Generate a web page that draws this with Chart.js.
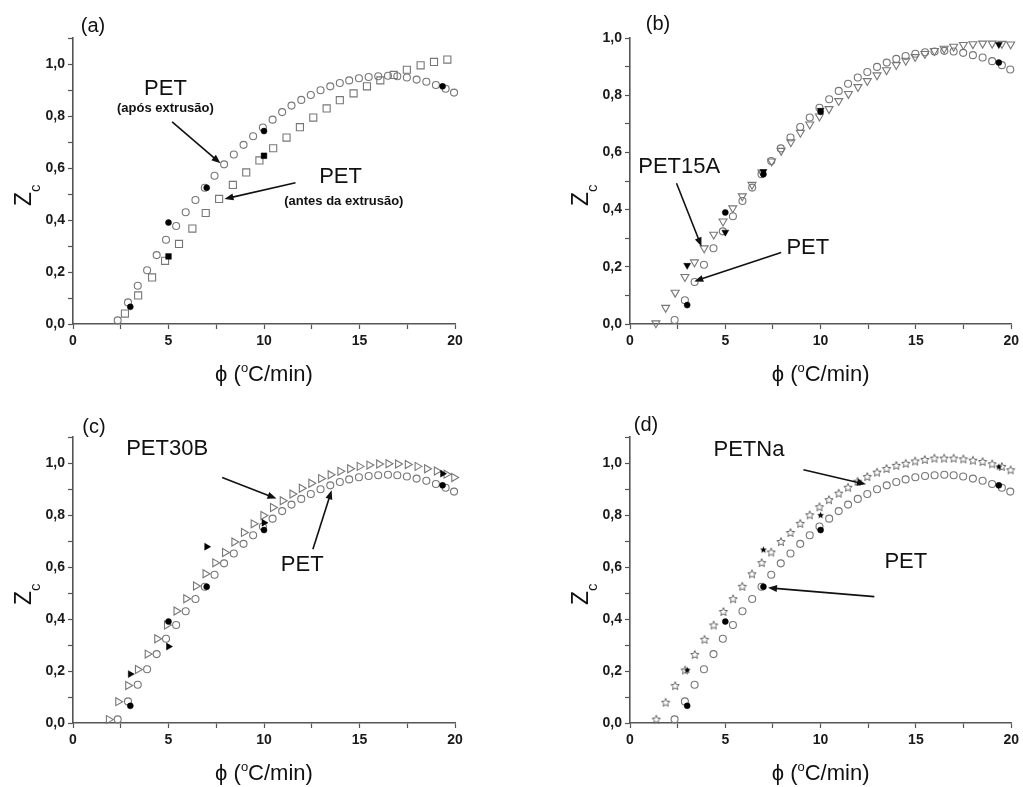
<!DOCTYPE html>
<html><head><meta charset="utf-8">
<script src="https://cdn.jsdelivr.net/npm/chart.js@4/dist/chart.umd.min.js"></script>
<style>
html,body{margin:0;padding:0;background:#fff;}
#wrap{position:relative;width:1023px;height:787px;overflow:hidden;background:#fff;}
canvas{position:absolute;}
</style></head><body>
<div id="wrap">
<canvas id="ca" style="left:0;top:0;" width="511" height="393"></canvas>
<canvas id="cb" style="left:511px;top:0;" width="512" height="393"></canvas>
<canvas id="cc" style="left:0;top:393px;" width="511" height="394"></canvas>
<canvas id="cd" style="left:511px;top:393px;" width="512" height="394"></canvas>
</div>
<script>
// ---------- DATA ----------
// PET (after extrusion) model curve - open circles (same in all panels)
const phiPET = [2.34, 2.88, 3.39, 3.88, 4.38, 4.87, 5.40, 5.90, 6.41, 6.90, 7.41, 7.91, 8.42, 8.93, 9.43, 9.94, 10.45, 10.95, 11.44, 11.95, 12.45, 12.96, 13.47, 13.97, 14.46, 14.97, 15.48, 15.98, 16.49, 16.98, 17.48, 17.99, 18.50, 19.00, 19.51, 19.95];
const zcPET  = [0.014, 0.083, 0.147, 0.207, 0.265, 0.324, 0.377, 0.430, 0.477, 0.524, 0.570, 0.614, 0.652, 0.689, 0.722, 0.756, 0.786, 0.815, 0.840, 0.862, 0.881, 0.899, 0.914, 0.927, 0.937, 0.945, 0.950, 0.953, 0.955, 0.953, 0.948, 0.940, 0.932, 0.919, 0.905, 0.890];
// PET experimental points (filled circles)
const phiPETexp = [3, 5, 7, 10, 19.35];
const zcPETexp  = [0.066, 0.390, 0.524, 0.742, 0.914];

// PET before extrusion - open squares
const phiAntes = [2.72, 3.41, 4.14, 4.82, 5.55, 6.25, 6.95, 7.65, 8.37, 9.07, 9.76, 10.48, 11.18, 11.88, 12.58, 13.28, 13.97, 14.69, 15.39, 16.09, 16.79, 17.48, 18.20, 18.90, 19.60];
const zcAntes  = [0.040, 0.110, 0.179, 0.243, 0.308, 0.367, 0.427, 0.481, 0.535, 0.583, 0.629, 0.676, 0.717, 0.757, 0.794, 0.829, 0.861, 0.887, 0.914, 0.937, 0.958, 0.978, 0.995, 1.008, 1.017];
const phiAntesExp = [5, 10];
const zcAntesExp  = [0.260, 0.647];

// PET15A - open down triangles
const phi15A = [1.36, 1.87, 2.37, 2.88, 3.38, 3.89, 4.39, 4.88, 5.39, 5.89, 6.40, 6.92, 7.43, 7.93, 8.44, 8.94, 9.43, 9.94, 10.44, 10.95, 11.46, 11.96, 12.45, 12.96, 13.46, 13.97, 14.47, 14.96, 15.47, 15.97, 16.48, 16.98, 17.49, 17.99, 18.50, 19.00, 19.51, 19.97];
const zc15A  = [0.003, 0.057, 0.110, 0.165, 0.216, 0.265, 0.313, 0.359, 0.405, 0.447, 0.487, 0.530, 0.569, 0.606, 0.636, 0.669, 0.698, 0.726, 0.752, 0.780, 0.805, 0.829, 0.850, 0.870, 0.888, 0.906, 0.921, 0.934, 0.945, 0.955, 0.963, 0.970, 0.976, 0.979, 0.981, 0.981, 0.980, 0.978];
const phi15AExp = [3, 5, 7, 10, 19.35];
const zc15AExp  = [0.205, 0.321, 0.533, 0.747, 0.977];

// PET30B - open right triangles
const phi30B = [1.87, 2.36, 2.88, 3.39, 3.90, 4.40, 4.91, 5.41, 5.92, 6.43, 6.93, 7.44, 7.95, 8.44, 8.94, 9.45, 9.96, 10.46, 10.97, 11.48, 11.97, 12.47, 12.98, 13.48, 13.99, 14.50, 15.00, 15.51, 16.02, 16.51, 17.01, 17.52, 18.03, 18.53, 19.04, 19.55, 19.95];
const zc30B  = [0.013, 0.082, 0.144, 0.206, 0.265, 0.324, 0.377, 0.431, 0.478, 0.527, 0.574, 0.616, 0.656, 0.696, 0.733, 0.766, 0.798, 0.829, 0.855, 0.881, 0.903, 0.922, 0.940, 0.955, 0.968, 0.978, 0.987, 0.992, 0.996, 0.997, 0.996, 0.994, 0.987, 0.978, 0.969, 0.957, 0.944];
const phi30BExp = [3, 5, 7, 10, 19.35];
const zc30BExp  = [0.188, 0.294, 0.678, 0.770, 0.959];

// PETNa - open stars
const phiNa = [1.38, 1.87, 2.37, 2.89, 3.40, 3.91, 4.39, 4.90, 5.41, 5.89, 6.40, 6.91, 7.41, 7.92, 8.42, 8.93, 9.43, 9.94, 10.44, 10.95, 11.44, 11.94, 12.45, 12.96, 13.46, 13.97, 14.47, 14.96, 15.47, 15.97, 16.48, 16.98, 17.49, 17.99, 18.50, 19.00, 19.51, 19.97];
const zcNa  = [0.013, 0.078, 0.142, 0.202, 0.262, 0.320, 0.375, 0.427, 0.476, 0.524, 0.572, 0.615, 0.656, 0.696, 0.731, 0.766, 0.799, 0.830, 0.857, 0.882, 0.905, 0.928, 0.946, 0.963, 0.977, 0.989, 0.997, 1.006, 1.012, 1.017, 1.017, 1.017, 1.014, 1.009, 1.004, 0.995, 0.985, 0.972];
const phiNaExp = [3, 7, 10, 19.35];
const zcNaExp  = [0.203, 0.666, 0.799, 0.985];

// axis ranges / ticks
const xMin = 0, xMax = 20, xStep = 2.5, xLabelEvery = 5;
const yStep = 0.1;
const yMaxA = 1.1, yMaxB = 1.0, yMaxC = 1.1, yMaxD = 1.1;

// ---------- HELPERS ----------
const FONT = "'Liberation Sans', Arial, Helvetica, sans-serif";
Chart.defaults.font.family = FONT;
const pts = (xs, ys) => xs.map((v, i) => ({x: v, y: ys[i]}));
const GREY = '#777777';

function starImg(r, fill, stroke) {
  const s = Math.ceil(r * 2 + 3);
  const c = document.createElement('canvas'); c.width = c.height = s;
  const g = c.getContext('2d');
  g.beginPath();
  for (let i = 0; i < 10; i++) {
    const rr = i % 2 ? r * 0.45 : r;
    const a = -Math.PI / 2 + i * Math.PI / 5;
    g.lineTo(s / 2 + rr * Math.cos(a), s / 2 + rr * Math.sin(a));
  }
  g.closePath();
  if (fill) { g.fillStyle = fill; g.fill(); }
  if (stroke) { g.strokeStyle = stroke; g.lineWidth = 1; g.stroke(); }
  return c;
}

function openSet(data, style, radius, rotation) {
  return {data, showLine: false, pointStyle: style, pointRadius: radius, pointRotation: rotation || 0,
    pointBackgroundColor: 'rgba(255,255,255,0)', pointBorderColor: GREY, pointBorderWidth: 1.1,
    order: 1, clip: false};
}
function fillSet(data, style, radius, rotation) {
  return {data, showLine: false, pointStyle: style, pointRadius: radius, pointRotation: rotation || 0,
    pointBackgroundColor: '#000', pointBorderColor: '#000', pointBorderWidth: 0.5,
    order: 0, clip: false};
}

function arrow(ctx, x1, y1, x2, y2) {
  const ang = Math.atan2(y2 - y1, x2 - x1);
  const L = 9, W = 3.5;
  ctx.lineWidth = 1.6;
  ctx.beginPath(); ctx.moveTo(x1, y1);
  ctx.lineTo(x2 - Math.cos(ang) * L * 0.8, y2 - Math.sin(ang) * L * 0.8); ctx.stroke();
  ctx.beginPath(); ctx.moveTo(x2, y2);
  ctx.lineTo(x2 - L * Math.cos(ang) + W * Math.sin(ang), y2 - L * Math.sin(ang) - W * Math.cos(ang));
  ctx.lineTo(x2 - L * Math.cos(ang) - W * Math.sin(ang), y2 - L * Math.sin(ang) + W * Math.cos(ang));
  ctx.closePath(); ctx.fill();
}

const decor = {
  id: 'decor',
  afterDraw(chart, args, o) {
    const {ctx, chartArea: a} = chart;
    const xs = chart.scales.x, ys = chart.scales.y;
    ctx.save();
    ctx.fillStyle = '#111'; ctx.strokeStyle = '#111';
    // panel label
    ctx.font = '20px ' + FONT; ctx.textAlign = 'center'; ctx.textBaseline = 'middle';
    ctx.fillText(o.label, a.left + o.labelDx, a.top + o.labelDy);
    // x title  ϕ (°C/min)
    const p1 = 'ϕ (', sup = 'o', p2 = 'C/min)';
    ctx.textAlign = 'left'; ctx.textBaseline = 'alphabetic';
    ctx.font = '22px ' + FONT; const w1 = ctx.measureText(p1).width, w2 = ctx.measureText(p2).width;
    ctx.font = '13px ' + FONT; const ws = ctx.measureText(sup).width;
    let sx = (a.left + a.right) / 2 - (w1 + ws + w2) / 2;
    const by = a.bottom + 57;
    ctx.font = '22px ' + FONT; ctx.fillText(p1, sx, by); sx += w1;
    ctx.font = '13px ' + FONT; ctx.fillText(sup, sx, by - 9); sx += ws;
    ctx.font = '22px ' + FONT; ctx.fillText(p2, sx, by);
    // y title Z_c
    ctx.save();
    ctx.translate(a.left - 42, (a.top + a.bottom) / 2 + 25);
    ctx.rotate(-Math.PI / 2);
    ctx.font = '23px ' + FONT; ctx.fillText('Z', 0, 0);
    const zw = ctx.measureText('Z').width;
    ctx.font = '15px ' + FONT; ctx.fillText('c', zw, 9);
    ctx.restore();
    // annotations
    ctx.textAlign = 'center'; ctx.textBaseline = 'middle';
    (o.texts || []).forEach(t => {
      ctx.font = t.font + ' ' + FONT;
      ctx.fillText(t.text, xs.getPixelForValue(t.x), ys.getPixelForValue(t.y));
    });
    (o.arrows || []).forEach(r => {
      arrow(ctx, xs.getPixelForValue(r[0]), ys.getPixelForValue(r[1]), xs.getPixelForValue(r[2]), ys.getPixelForValue(r[3]));
    });
    ctx.restore();
  }
};

function scales(yMax) {
  const grid = {display: true, drawOnChartArea: false, drawTicks: true, tickLength: 5, tickColor: '#555', tickWidth: 1.2};
  const border = {display: true, color: '#555', width: 1.6};
  return {
    x: {type: 'linear', min: xMin, max: xMax, grid, border,
      afterFit: s => { s.height = 30; },
      ticks: {stepSize: xStep, autoSkip: false, maxRotation: 0, padding: 4, color: '#1a1a1a',
        font: {size: 14, weight: 'bold', family: FONT},
        callback: v => (Math.abs(v % xLabelEvery) < 1e-6 ? String(v) : '')}},
    y: {type: 'linear', min: 0, max: yMax, grid, border,
      afterFit: s => { s.width = 60; },
      ticks: {stepSize: yStep, autoSkip: false, padding: 3, color: '#1a1a1a',
        font: {size: 14, weight: 'bold', family: FONT},
        callback: v => { const n = Math.round(v * 10); return (n % 2 === 0 && n <= 10) ? (n / 10).toFixed(1).replace('.', ',') : ''; }}}
  };
}

function make(id, datasets, yMax, padding, deco) {
  return new Chart(document.getElementById(id), {
    type: 'scatter',
    data: {datasets},
    options: {
      responsive: false, animation: false, devicePixelRatio: 1,
      layout: {padding},
      scales: scales(yMax),
      plugins: {legend: {display: false}, tooltip: {enabled: false}, decor: deco}
    },
    plugins: [decor]
  });
}

const big = '22px', small = 'bold 13px';

make('ca', [
  fillSet(pts(phiPETexp, zcPETexp), 'circle', 3),
  fillSet(pts(phiAntesExp, zcAntesExp), 'rect', 4),
  openSet(pts(phiPET, zcPET), 'circle', 3.5),
  openSet(pts(phiAntes, zcAntes), 'rect', 5)
], yMaxA, {left: 13, right: 56, top: 38, bottom: 39}, {
  label: '(a)', labelDx: 20, labelDy: -12,
  texts: [
    {text: 'PET', x: 4.84, y: 0.905, font: big},
    {text: '(após extrusão)', x: 4.84, y: 0.829, font: small},
    {text: 'PET', x: 14.01, y: 0.566, font: big},
    {text: '(antes da extrusão)', x: 14.18, y: 0.471, font: small}
  ],
  arrows: [[5.19, 0.777, 7.72, 0.618], [11.65, 0.543, 7.93, 0.481]]
});

make('cb', [
  fillSet(pts(phiPETexp, zcPETexp), 'circle', 3),
  fillSet(pts(phi15AExp, zc15AExp), 'triangle', 4, 180),
  openSet(pts(phiPET, zcPET), 'circle', 3.5),
  openSet(pts(phi15A, zc15A), 'triangle', 4.6, 180)
], yMaxB, {left: 59, right: 11, top: 38, bottom: 39}, {
  label: '(b)', labelDx: 28, labelDy: -14,
  texts: [
    {text: 'PET15A', x: 2.58, y: 0.550, font: big},
    {text: 'PET', x: 9.33, y: 0.265, font: big}
  ],
  arrows: [[2.44, 0.492, 3.75, 0.271], [7.93, 0.25, 3.37, 0.149]]
});

make('cc', [
  fillSet(pts(phiPETexp, zcPETexp), 'circle', 3),
  fillSet(pts(phi30BExp, zc30BExp), 'triangle', 4, 90),
  openSet(pts(phiPET, zcPET), 'circle', 3.5),
  openSet(pts(phi30B, zc30B), 'triangle', 4.6, 90)
], yMaxC, {left: 13, right: 56, top: 44, bottom: 34}, {
  label: '(c)', labelDx: 21, labelDy: -10,
  texts: [
    {text: 'PET30B', x: 4.93, y: 1.055, font: big},
    {text: 'PET', x: 12.0, y: 0.607, font: big}
  ],
  arrows: [[7.81, 0.944, 10.65, 0.863], [12.56, 0.668, 13.54, 0.895]]
});

make('cd', [
  fillSet(pts(phiPETexp, zcPETexp), 'circle', 3),
  fillSet(pts(phiNaExp, zcNaExp), starImg(3.6, '#000', null), 4),
  openSet(pts(phiPET, zcPET), 'circle', 3.5),
  openSet(pts(phiNa, zcNa), starImg(4.4, null, '#666'), 4.5)
], yMaxD, {left: 59, right: 11, top: 44, bottom: 34}, {
  label: '(d)', labelDx: 16, labelDy: -12,
  texts: [
    {text: 'PETNa', x: 6.24, y: 1.051, font: big},
    {text: 'PET', x: 14.47, y: 0.620, font: big}
  ],
  arrows: [[9.10, 0.974, 12.38, 0.918], [12.82, 0.486, 7.24, 0.520]]
});
</script>
</body></html>
